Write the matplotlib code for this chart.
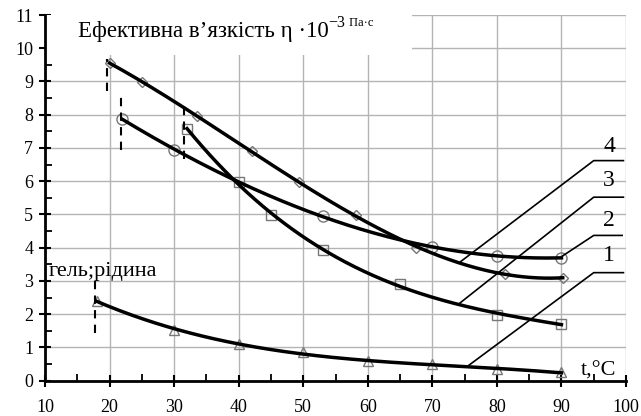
import numpy as np
import matplotlib
matplotlib.use('Agg')
import matplotlib.pyplot as plt
from matplotlib.patches import Rectangle

plt.rcParams['font.family'] = ['Liberation Serif', 'DejaVu Serif']

# curve 1 - triangles
t1 = [18, 30, 40, 50, 60, 70, 80, 90]
eta1 = [2.40, 1.54, 1.09, 0.85, 0.59, 0.49, 0.34, 0.25]
# curve 3 - squares
t_sq = [32, 40, 45, 53, 65, 80, 90]
eta_sq = [7.57, 5.97, 4.99, 3.92, 2.90, 1.99, 1.70]
# curve 4 - diamonds
t_dm = [20, 25, 33.5, 42, 49.3, 58.2, 67.5, 81.3, 90.2]
eta_dm = [9.57, 8.97, 7.97, 6.90, 5.97, 4.97, 4.00, 3.22, 3.09]
# curve 2 - circles
t_ci = [22, 30, 53, 70, 80, 90]
eta_ci = [7.87, 6.95, 4.95, 4.02, 3.75, 3.70]

x_ticks = list(range(10, 101, 10))
y_ticks = list(range(0, 12))

fig = plt.figure(figsize=(6.41, 4.16), dpi=100)
ax = fig.add_axes([45 / 641, 35.3 / 416, 581 / 641, 365.7 / 416])
ax.set_xlim(10, 100)
ax.set_ylim(0, 11)
ax.set_xticks(x_ticks)
ax.set_yticks(y_ticks)
ax.set_xticks(np.arange(15, 100, 10), minor=True)
ax.set_yticks(np.arange(0.5, 11, 1), minor=True)
ax.grid(True, which='major', color='#b4b4b4', linewidth=1)
ax.set_axisbelow(True)
for s in ['top', 'right']:
    ax.spines[s].set_visible(False)
for s in ['left', 'bottom']:
    ax.spines[s].set_linewidth(2)
ax.tick_params(which='major', direction='inout', length=9, width=1.5, labelsize=13)
ax.tick_params(which='minor', direction='in', length=5, width=1.3)
ax.tick_params(axis='x', which='major', pad=9)
ax.tick_params(axis='y', which='major', pad=4)

# white title box
ax.add_patch(Rectangle((10, 9.8), 56.9, 1.2, fc='white', ec='none', zorder=2))
tt = ax.text(15.1, 10.49, 'Ефективна в’язкість η ·10', fontsize=16.5, va='center', ha='left', zorder=3)
sup = ax.annotate('−3', xy=(1, 0.55), xycoords=tt, fontsize=11.5, va='bottom', ha='left', zorder=3)
ax.annotate(' Па·с', xy=(1, 0.1), xycoords=sup, fontsize=9, va='bottom', ha='left', zorder=3)

mk = dict(linestyle='none', mfc='none', mec='#777777', mew=1, zorder=3)
ax.plot(t1, eta1, marker='^', ms=7.5, **mk)
ax.plot(t_sq, eta_sq, marker='s', ms=7.5, **mk)
ax.plot(t_dm, eta_dm, marker='D', ms=5.5, **mk)
ax.plot(t_ci, eta_ci, marker='o', ms=8, **mk)

for tx, ey, deg in [(t1, eta1, 3), (t_sq, eta_sq, 3), (t_dm, eta_dm, 3), (t_ci, eta_ci, 3)]:
    p = np.polyfit(tx, ey, deg)
    xs = np.linspace(tx[0], tx[-1], 200)
    ax.plot(xs, np.polyval(p, xs), color='black', linewidth=2.5, zorder=4)

# phase transition marks
for xv, y0, y1 in [(19.6, 8.7, 9.67), (21.7, 6.95, 8.62), (31.6, 6.67, 8.37), (17.75, 1.42, 3.07)]:
    ax.plot([xv, xv], [y0, y1], color='black', linestyle=(0, (4, 3)), linewidth=1.5, zorder=4)

ax.text(10.6, 3.27, 'гель;рідина', fontsize=16, va='center', ha='left', zorder=5)

# curve labels with leader lines
for lab, ty, yh, xe, ye, x1 in [('4', 7.04, 6.62, 74.3, 3.57, 99.6),
                                ('3', 6.02, 5.52, 74.3, 2.34, 99.6),
                                ('2', 4.82, 4.37, 90.15, 3.75, 99.4),
                                ('1', 3.77, 3.25, 75.7, 0.47, 99.6)]:
    ax.plot([xe, 95.0, x1], [ye, yh, yh], color='black', linewidth=1.2, zorder=4)
    ax.text(97.4, ty, lab, fontsize=17, ha='center', va='center', zorder=5)

ax.text(93, 0.3, 't,°C', fontsize=16, ha='left', va='center', zorder=5)

fig.savefig('out.png', dpi=100)
